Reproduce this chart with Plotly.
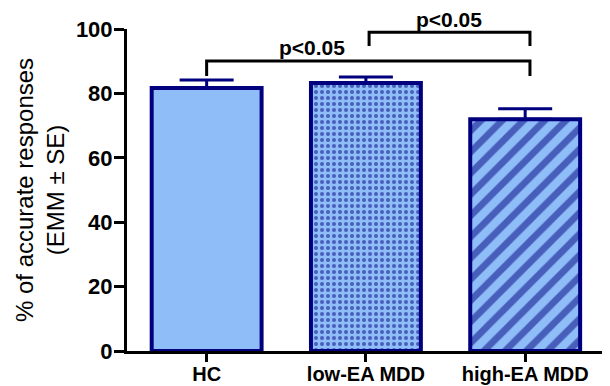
import plotly.graph_objects as go

categories = ["HC", "low-EA MDD", "high-EA MDD"]
means = [81.7, 83.2, 72.0]
se = [2.5, 1.9, 3.2]
patterns = ["", ".", "/"]
y_ticks = [0, 20, 40, 60, 80, 100]

FILL = "#8fbdf7"
NAVY = "#00007f"
FONT = "Arial, Liberation Sans, sans-serif"

fig = go.Figure()
fig.add_trace(go.Bar(
    x=[0, 1, 2], y=means,
    width=0.69,
    marker=dict(
        color=FILL,
        line=dict(color=NAVY, width=4),
        pattern=dict(shape=patterns, fgcolor=NAVY, bgcolor=FILL,
                     size=[8, 6, 15], solidity=[0.3, 0.35, 0.45],
                     fillmode="overlay"),
    ),
    error_y=dict(type="data", array=se, arrayminus=[0, 0, 0], symmetric=False,
                 color=NAVY, thickness=3, width=27),
))

# significance brackets (y in data units; labels placed in paper units = value/100)
brackets = [(0, 2.03, 90.1, 85.4, 0.66, 94.4), (1.02, 2.03, 99.0, 94.7, 1.52, 103.0)]
for x0, x1, ytop, ylow, tx, ty in brackets:
    fig.add_shape(type="path", xref="x", yref="y",
                  path=f"M {x0},{ylow} L {x0},{ytop} L {x1},{ytop} L {x1},{ylow}",
                  line=dict(color="black", width=3))
    fig.add_annotation(x=tx, y=ty / 100, xref="x", yref="paper", text="<b>p<0.05</b>",
                       xanchor="center", yanchor="middle",
                       showarrow=False, font=dict(family=FONT, size=21, color="black"))

fig.update_layout(
    width=602, height=378,
    margin=dict(l=119, r=2, t=21, b=35),
    paper_bgcolor="white", plot_bgcolor="white",
    showlegend=False,
    font=dict(family=FONT, color="black"),
)
fig.update_xaxes(
    range=[-0.5, 2.52], tickvals=[0, 1, 2],
    ticktext=[f"<b>{c}</b>" for c in categories],
    showline=True, linecolor="black", linewidth=3,
    ticks="outside", ticklen=8, tickwidth=3, tickcolor="black",
    tickfont=dict(size=20, family=FONT), ticklabelstandoff=-5,
    showgrid=False, zeroline=False, automargin=False,
)
fig.update_yaxes(
    range=[0, 100], tickvals=y_ticks,
    ticktext=[f"<b>{v}</b>" for v in y_ticks],
    showline=True, linecolor="black", linewidth=3,
    ticks="outside", ticklen=10, tickwidth=3, tickcolor="black",
    tickfont=dict(size=22, family=FONT), ticklabelstandoff=-3,
    showgrid=False, zeroline=False, automargin=False,
    title=dict(text="% of accurate responses<br>(EMM \u00b1 SE)",
               font=dict(size=24, family=FONT), standoff=5),
)

fig.write_html("out.html")
